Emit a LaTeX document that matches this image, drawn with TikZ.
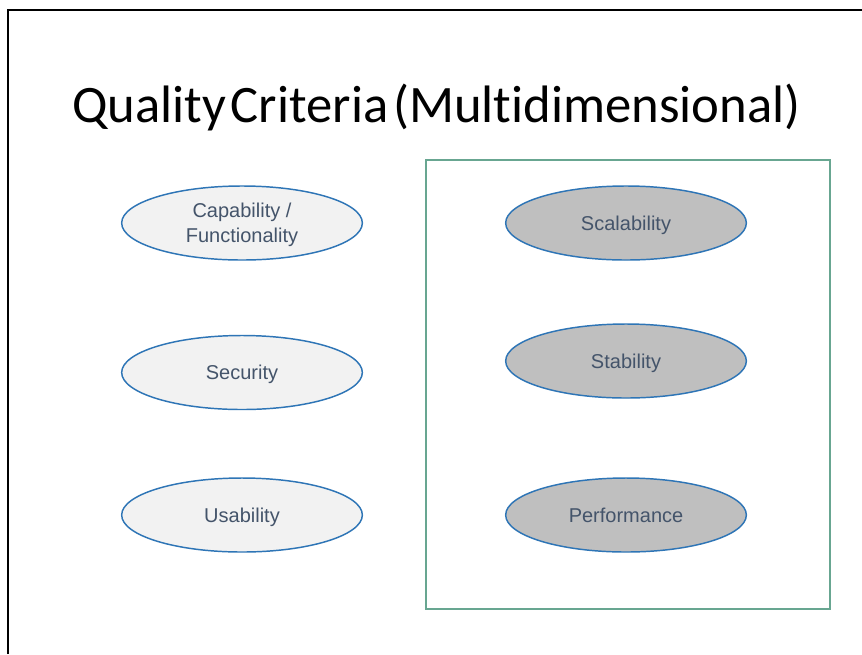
\documentclass[tikz,border=0pt]{standalone}
\usepackage{fontspec}
\setmainfont{Liberation Sans}
\newfontfamily\titlefont[Ligatures={NoCommon}]{Carlito}
\usetikzlibrary{shapes.geometric}
\definecolor{ellline}{RGB}{46,117,182}
\definecolor{lightfill}{RGB}{242,242,242}
\definecolor{greyfill}{RGB}{191,191,191}
\definecolor{txt}{RGB}{68,84,106}
\definecolor{boxgreen}{RGB}{104,166,145}
\begin{document}
\begin{tikzpicture}[x=0.75pt,y=-0.75pt,
  crit/.style={ellipse, draw=ellline, line width=1.1pt, minimum width=180.5pt, minimum height=55.5pt, inner sep=0pt, text=txt, font=\fontsize{15}{18.75}\selectfont, align=center},
  oneline/.style={text height=10.7pt, text depth=0pt},
  lightcrit/.style={crit, fill=lightfill},
  darkcrit/.style={crit, fill=greyfill}]
\useasboundingbox (0,0) rectangle (862,654);
\fill[white] (0,0) rectangle (862,654);
\draw[line width=1.9pt] (8,654) -- (8,10) -- (862,10);
\node[anchor=base, inner sep=0pt, font=\titlefont\fontsize{39.5}{46}\selectfont] (title) at (436.5,122) {\spaceskip=0.09em plus 0.02em\relax Quality Criteria (Multidimensional)};
\node[draw=boxgreen, line width=1.1pt, minimum width=303pt, minimum height=336.75pt, inner sep=0pt] (group) at (628,384.5) {};
\node[lightcrit, text depth=0pt] (cap) at (242,223) {Capability /\\Functionality};
\node[lightcrit, oneline] (sec) at (242,372.5) {Security};
\node[lightcrit, oneline] (usa) at (242,515) {Usability};
\node[darkcrit, oneline] (sca) at (626,223) {Scalability};
\node[darkcrit, oneline] (sta) at (626,361) {Stability};
\node[darkcrit, oneline] (per) at (626,515) {Performance};
\end{tikzpicture}
\end{document}
